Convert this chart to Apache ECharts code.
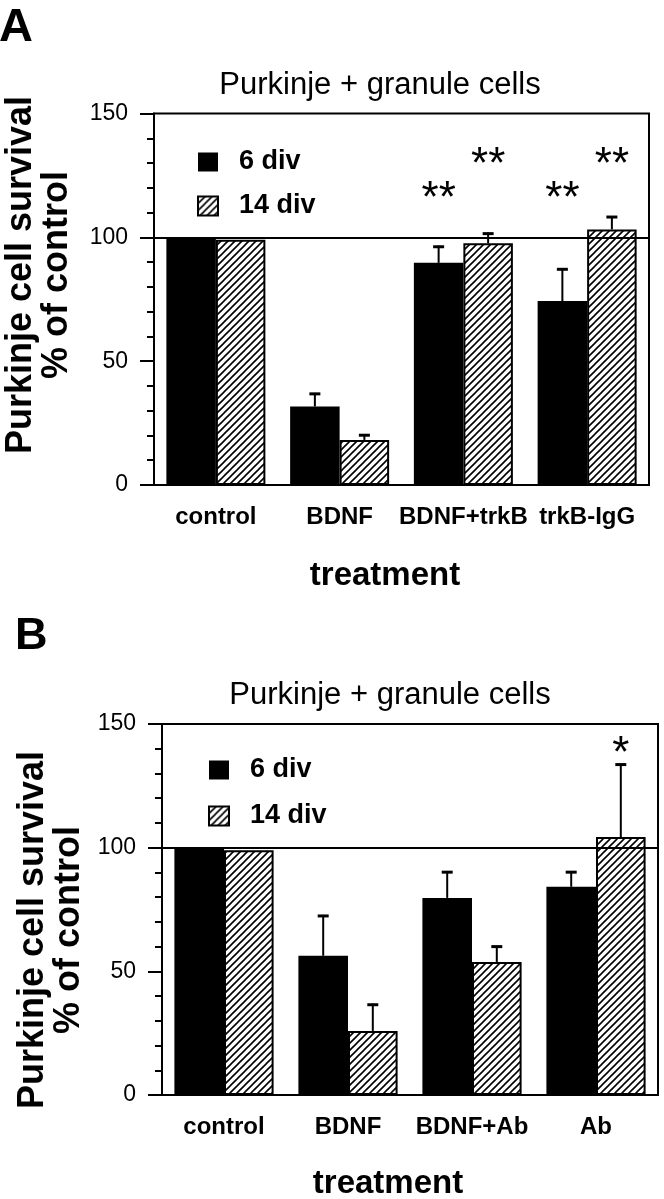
<!DOCTYPE html>
<html>
<head>
<meta charset="utf-8">
<script src="https://cdn.jsdelivr.net/npm/echarts@6/dist/echarts.min.js"></script>
<style>
html,body{margin:0;padding:0;background:#fff;}
#chart{width:664px;height:1199px;}
</style>
</head>
<body>
<div id="chart"></div>
<script>
// ---------- data ----------
const categoriesA = ['control', 'BDNF', 'BDNF+trkB', 'trkB-IgG'];
const div6A      = [100, 31.7, 89.7, 74.3];
const div6ErrA   = [0, 5.5, 6.9, 13.2];
const div14A     = [99, 18.2, 97.6, 103.2];
const div14ErrA  = [0, 2.3, 4.3, 5.4];
const starCatA   = [2, 2, 3, 3];
const starSerA   = [0, 1, 0, 1];
const starValA   = [119, 133, 119, 133];
const starTextA  = ['**', '**', '**', '**'];

const categoriesB = ['control', 'BDNF', 'BDNF+Ab', 'Ab'];
const div6B      = [100, 56.3, 79.7, 84.2];
const div6ErrB   = [0, 16.5, 10.8, 6.3];
const div14B     = [99, 25.9, 53.8, 104.3];
const div14ErrB  = [0, 11, 6.6, 29.7];
const starCatB   = [3];
const starSerB   = [1];
const starValB   = [141.7];
const starTextB  = ['*'];

const seriesNames = ['6 div', '14 div'];
const yMin = 0, yMax = 150, yStep = 50;
const panelTitle = 'Purkinje + granule cells';
const yTitle = 'Purkinje cell survival\n% of control';
const xTitle = 'treatment';

// ---------- styles ----------
const FONT = '"Liberation Sans", Arial, Helvetica, sans-serif';

function makeHatch() {
  const s = 7;
  const c = document.createElement('canvas');
  c.width = s; c.height = s;
  const g = c.getContext('2d');
  g.fillStyle = '#fff'; g.fillRect(0, 0, s, s);
  g.strokeStyle = '#000'; g.lineWidth = 1.6;
  g.beginPath();
  g.moveTo(0, s); g.lineTo(s, 0);
  g.moveTo(-1, 1); g.lineTo(1, -1);
  g.moveTo(s - 1, s + 1); g.lineTo(s + 1, s - 1);
  g.stroke();
  return c;
}
const hatch = { image: makeHatch(), repeat: 'repeat' };

const chart = echarts.init(document.getElementById('chart'), null, { renderer: 'canvas' });

const grids = [
  { left: 154, top: 113.5, width: 495, height: 371.5 },
  { left: 162, top: 724, width: 496, height: 371 }
];

function xAxis(i, cats) {
  return {
    type: 'category', gridIndex: i, data: cats,
    axisLine: { lineStyle: { color: '#000', width: 2 } },
    axisTick: { show: false },
    axisLabel: { interval: 0, fontSize: 24, fontWeight: 'bold', color: '#000',
                 fontFamily: FONT, margin: 20, lineHeight: 24 }
  };
}
function yAxis(i) {
  return {
    type: 'value', gridIndex: i, min: yMin, max: yMax, interval: yStep,
    axisLine: { show: true, lineStyle: { color: '#000', width: 2 } },
    axisTick: { show: true, length: 14, lineStyle: { color: '#000', width: 2 } },
    minorTick: { show: true, splitNumber: 5, length: 7, lineStyle: { color: '#000', width: 2 } },
    splitLine: { show: false },
    axisLabel: { fontSize: 23, color: '#000', fontFamily: FONT, margin: 26 }
  };
}

function barSeries(i, vals6, vals14) {
  return [
    { type: 'bar', name: seriesNames[0], xAxisIndex: i, yAxisIndex: i, data: vals6,
      barWidth: '40%', barGap: '0%', itemStyle: { color: '#000' }, silent: true },
    { type: 'bar', name: seriesNames[1], xAxisIndex: i, yAxisIndex: i, data: vals14,
      barWidth: '40%', barGap: '0%', silent: true,
      itemStyle: { color: hatch, borderColor: '#000', borderWidth: 2 },
      markLine: { silent: true, symbol: 'none', label: { show: false },
                  lineStyle: { color: '#000', width: 2, type: 'solid' },
                  data: [{ yAxis: 100 }] } }
  ];
}

function errSeries(i, serIdx, vals, errs) {
  return {
    type: 'custom', xAxisIndex: i, yAxisIndex: i, silent: true, z: 4,
    data: vals.map((v, k) => [k, v, errs[k]]),
    encode: { x: 0, y: 1 },
    renderItem: function (params, api) {
      const idx = api.value(0), v = api.value(1), e = api.value(2);
      if (!e) return null;
      const band = api.size([1, 0])[0];
      const off = (serIdx === 0 ? -1 : 1) * band * 0.2;
      const p0 = api.coord([idx, v]);
      const p1 = api.coord([idx, v + e]);
      const x = p0[0] + off;
      return { type: 'group', children: [
        { type: 'line', shape: { x1: x, y1: p0[1], x2: x, y2: p1[1] }, style: { stroke: '#000', lineWidth: 2 } },
        { type: 'line', shape: { x1: x - 5.5, y1: p1[1] + 1, x2: x + 5.5, y2: p1[1] + 1 }, style: { stroke: '#000', lineWidth: 3 } }
      ] };
    }
  };
}

function starSeries(i, cats, sers, vals, texts) {
  return {
    type: 'custom', xAxisIndex: i, yAxisIndex: i, silent: true, z: 4,
    data: vals.map((v, k) => [cats[k], v, sers[k], texts[k]]),
    encode: { x: 0, y: 1 },
    renderItem: function (params, api) {
      const k = params.dataIndex;
      const band = api.size([1, 0])[0];
      const off = (sers[k] === 0 ? -1 : 1) * band * 0.2;
      const p = api.coord([cats[k], vals[k]]);
      return { type: 'text', x: p[0] + off, y: p[1] + 10,
        style: { text: texts[k], fill: '#000', fontSize: 44, fontWeight: 'normal', fontFamily: FONT,
                 align: 'center', verticalAlign: 'middle' } };
    }
  };
}

function legend(left, top, gap) {
  return {
    left: left, top: top, orient: 'vertical', icon: 'rect',
    itemWidth: 20, itemHeight: 19, itemGap: gap, selectedMode: false,
    data: seriesNames,
    textStyle: { fontSize: 27, fontWeight: 'bold', color: '#000', fontFamily: FONT,
                 lineHeight: 30, padding: [0, 0, 0, 16] }
  };
}

function txt(x, y, text, size, weight, extra, align) {
  return Object.assign({ type: 'text', x: x, y: y, silent: true,
    style: { text: text, fontSize: size, fontWeight: weight, fontFamily: FONT, fill: '#000',
             align: align || 'center', verticalAlign: 'middle', lineHeight: size } }, extra || {});
}

const option = {
  backgroundColor: '#fff',
  animation: false,
  grid: grids.map(g => Object.assign({ show: true, borderColor: '#000', borderWidth: 2,
                                        backgroundColor: 'transparent', containLabel: false }, g)),
  xAxis: [xAxis(0, categoriesA), xAxis(1, categoriesB)],
  yAxis: [yAxis(0), yAxis(1)],
  legend: [legend(192, 142, 14), legend(203, 750, 16)],
  series: [].concat(
    barSeries(0, div6A, div14A),
    [errSeries(0, 0, div6A, div6ErrA), errSeries(0, 1, div14A, div14ErrA),
     starSeries(0, starCatA, starSerA, starValA, starTextA)],
    barSeries(1, div6B, div14B),
    [errSeries(1, 0, div6B, div6ErrB), errSeries(1, 1, div14B, div14ErrB),
     starSeries(1, starCatB, starSerB, starValB, starTextB)]
  ),
  graphic: [
    txt(-1, 28, 'A', 47, 'bold', null, 'left'),
    txt(15, 637, 'B', 45, 'bold', null, 'left'),
    txt(380, 85, panelTitle, 31, 'normal'),
    txt(390, 695, panelTitle, 31, 'normal'),
    txt(39, 275, yTitle, 36, 'bold', { rotation: Math.PI / 2 }),
    txt(51, 930, yTitle, 36, 'bold', { rotation: Math.PI / 2 }),
    txt(385, 576, xTitle, 33, 'bold'),
    txt(388, 1184, xTitle, 33, 'bold')
  ]
};
chart.setOption(option);
</script>
</body>
</html>
